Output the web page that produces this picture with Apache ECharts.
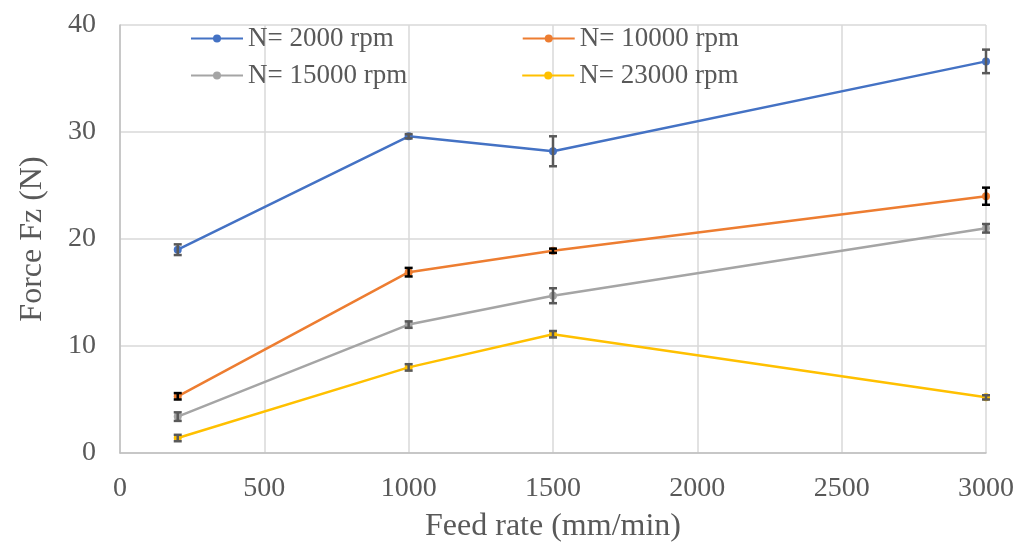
<!DOCTYPE html>
<html>
<head>
<meta charset="utf-8">
<script src="https://cdn.jsdelivr.net/npm/echarts@6/dist/echarts.min.js"></script>
<style>html,body{margin:0;padding:0;background:#fff;}#c{width:1018px;height:548px;}</style>
</head>
<body>
<div id="c"></div>
<script>
const feedRates = [200, 1000, 1500, 3000];
const seriesNames = ['N= 2000 rpm', 'N= 10000 rpm', 'N= 15000 rpm', 'N= 23000 rpm'];
const fz2000 = [19.0, 29.6, 28.2, 36.6];
const fz10000 = [5.3, 16.9, 18.9, 24.0];
const fz15000 = [3.4, 12.0, 14.7, 21.0];
const fz23000 = [1.4, 8.0, 11.1, 5.2];
const err2000 = [0.5, 0.2, 1.4, 1.1];
const err10000 = [0.3, 0.4, 0.2, 0.8];
const err15000 = [0.4, 0.3, 0.7, 0.4];
const err23000 = [0.3, 0.3, 0.3, 0.2];
const xTicks = [0, 500, 1000, 1500, 2000, 2500, 3000];
const yTicks = [0, 10, 20, 30, 40];

const values = [fz2000, fz10000, fz15000, fz23000];
const errors = [err2000, err10000, err15000, err23000];
const colors = ['#4472C4', '#ED7D31', '#A5A5A5', '#FFC000'];
const errColors = ['#595959', '#000000', '#595959', '#595959'];
const font = '"Liberation Serif", "Times New Roman", serif';

const series = [];
values.forEach((vals, i) => {
  series.push({
    name: seriesNames[i],
    type: 'line',
    data: feedRates.map((x, j) => [x, vals[j]]),
    symbol: 'circle',
    symbolSize: 8,
    lineStyle: { color: colors[i], width: 2.5 },
    itemStyle: { color: colors[i] },
    z: 3
  });
  series.push({
    type: 'custom',
    name: seriesNames[i] + ' err',
    data: feedRates.map((x, j) => [x, vals[j] - errors[i][j], vals[j] + errors[i][j]]),
    z: 4,
    silent: true,
    renderItem: function (params, api) {
      const x = api.value(0);
      const lo = api.coord([x, api.value(1)]);
      const hi = api.coord([x, api.value(2)]);
      const hw = 4;
      const st = { stroke: errColors[i], lineWidth: 2.5, fill: null };
      return {
        type: 'group',
        children: [
          { type: 'line', shape: { x1: lo[0], y1: lo[1], x2: hi[0], y2: hi[1] }, style: st },
          { type: 'line', shape: { x1: lo[0] - hw, y1: lo[1], x2: lo[0] + hw, y2: lo[1] }, style: st },
          { type: 'line', shape: { x1: hi[0] - hw, y1: hi[1], x2: hi[0] + hw, y2: hi[1] }, style: st }
        ]
      };
    }
  });
});

const legendText = { fontFamily: font, fontSize: 27, color: '#595959' };
const chart = echarts.init(document.getElementById('c'));
chart.setOption({
  animation: false,
  backgroundColor: '#fff',
  grid: { left: 120, right: 32, top: 25, bottom: 95 },
  legend: [
    { data: [seriesNames[0], seriesNames[1]], left: 190, top: 25, itemWidth: 52, itemHeight: 10, itemGap: 128, textStyle: legendText, padding: 0 },
    { data: [seriesNames[2], seriesNames[3]], left: 190, top: 62, itemWidth: 52, itemHeight: 10, itemGap: 114, textStyle: legendText, padding: 0 }
  ],
  xAxis: {
    type: 'value', min: xTicks[0], max: xTicks[xTicks.length - 1], interval: 500,
    name: 'Feed rate (mm/min)', nameLocation: 'middle', nameGap: 58,
    nameTextStyle: { fontFamily: font, fontSize: 32, color: '#595959' },
    axisLine: { show: true, lineStyle: { color: '#BFBFBF', width: 1.5 } },
    axisTick: { show: false },
    axisLabel: { fontFamily: font, fontSize: 28, color: '#595959', margin: 22, formatter: v => String(v) },
    splitLine: { show: true, lineStyle: { color: '#D9D9D9', width: 1.5 } }
  },
  yAxis: {
    type: 'value', min: yTicks[0], max: yTicks[yTicks.length - 1], interval: 10,
    name: 'Force Fz (N)', nameLocation: 'middle', nameGap: 71,
    nameTextStyle: { fontFamily: font, fontSize: 32, color: '#595959' },
    axisLine: { show: true, lineStyle: { color: '#BFBFBF', width: 1.5 } },
    axisTick: { show: false },
    axisLabel: { fontFamily: font, fontSize: 28, color: '#595959', margin: 24 },
    splitLine: { show: true, lineStyle: { color: '#D9D9D9', width: 1.5 } }
  },
  series: series
});
</script>
</body>
</html>
